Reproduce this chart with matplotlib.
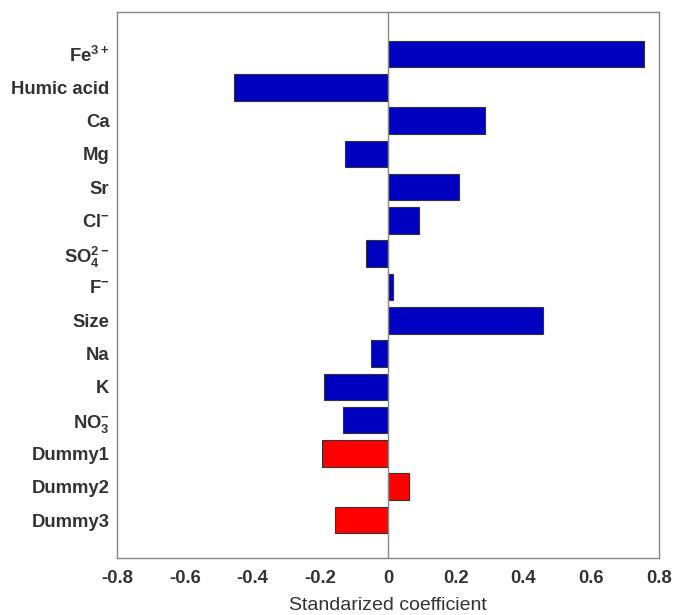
import matplotlib
matplotlib.use("Agg")
import matplotlib.pyplot as plt

plt.rcParams['font.family'] = ['Liberation Sans', 'DejaVu Sans']
plt.rcParams['mathtext.fontset'] = 'custom'
plt.rcParams['mathtext.rm'] = 'Liberation Sans:bold'
plt.rcParams['mathtext.bf'] = 'Liberation Sans:bold'
plt.rcParams['mathtext.default'] = 'bf'

# data
labels = [r'Fe$^{3+}$', 'Humic acid', 'Ca', 'Mg', 'Sr', r'Cl$^{-}$',
          r'SO$_4^{2-}$', r'F$^{-}$', 'Size', 'Na', 'K', r'NO$_3^{-}$',
          'Dummy1', 'Dummy2', 'Dummy3']
coefs = [0.756, -0.455, 0.286, -0.127, 0.21, 0.092, -0.065, 0.015,
         0.458, -0.05, -0.189, -0.133, -0.195, 0.062, -0.156]
is_dummy = [False] * 12 + [True] * 3
xticks = [-0.8, -0.6, -0.4, -0.2, 0, 0.2, 0.4, 0.6, 0.8]
xtick_labels = ['-0.8', '-0.6', '-0.4', '-0.2', '0', '0.2', '0.4', '0.6', '0.8']

blue = '#0000c0'
red = '#ff0000'
colors = [red if d else blue for d in is_dummy]

fig = plt.figure(figsize=(6.73, 6.15), dpi=100)
ax = fig.add_axes([0.174, 0.0927, 0.805, 0.8878])

pos = list(range(len(labels)))
ax.barh(pos, coefs, height=0.8, color=colors, edgecolor='#333333', linewidth=0.8, zorder=2)
ax.axvline(0, color='#888888', linewidth=1.0, zorder=3)

ax.set_xlim(-0.8, 0.8)
ax.set_ylim(len(labels) - 1 + 1.14, -1.26)
ax.set_yticks(pos)
ax.set_yticklabels(labels, fontsize=13.3, fontweight='bold', color='#333333')
ax.set_xticks(xticks)
ax.set_xticklabels(xtick_labels, fontsize=13.3, fontweight='bold', color='#333333')
ax.tick_params(axis='y', length=0, pad=5.5)
ax.tick_params(axis='x', length=0, pad=9)
ax.set_xlabel('Standarized coefficient', fontsize=14, color='#333333', labelpad=7)

for s in ax.spines.values():
    s.set_color('#888888')
    s.set_linewidth(1.0)

fig.savefig('out.png', dpi=100)
